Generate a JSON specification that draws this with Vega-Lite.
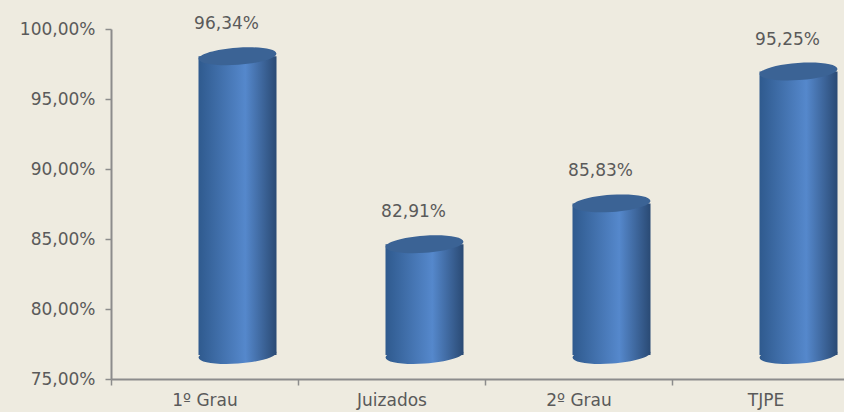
{
  "$schema": "https://vega.github.io/schema/vega-lite/v6.json",
  "autosize": "none",
  "width": 733,
  "height": 350,
  "padding": {"left": 111, "top": 29, "right": 0, "bottom": 33},
  "background": "#EEEBE0",
  "config": {
    "view": {"stroke": null},
    "locale": {"number": {"decimal": ",", "thousands": ".", "grouping": [3], "currency": ["R$", ""]}},
    "font": "DejaVu Sans"
  },
  "data": {
    "values": [
      {"categoria": "1º Grau", "valor": 0.9634},
      {"categoria": "Juizados", "valor": 0.8291},
      {"categoria": "2º Grau", "valor": 0.8583},
      {"categoria": "TJPE", "valor": 0.9525}
    ]
  },
  "encoding": {
    "x": {
      "field": "categoria",
      "type": "nominal",
      "sort": null,
      "scale": {"range": [0, 748], "paddingInner": 0, "paddingOuter": 0},
      "axis": {
        "title": null,
        "labelAngle": 0,
        "tickBand": "extent",
        "domainColor": "#8C8C8C",
        "domainWidth": 2,
        "tickColor": "#8C8C8C",
        "tickWidth": 1.5,
        "tickSize": 6,
        "labelFontSize": 17,
        "labelColor": "#5A5A5A",
        "labelPadding": 7
      }
    }
  },
  "layer": [
    {
      "mark": {
        "type": "point",
        "shape": "M -1 0 A 1 0.22 0 1 0 1 0 A 1 0.22 0 1 0 -1 0 Z",
        "size": 6084,
        "filled": true,
        "opacity": 1,
        "angle": -4,
        "xOffset": 33,
        "yOffset": -24,
        "color": {
          "gradient": "linear", "x1": 0, "x2": 1, "y1": 0, "y2": 0,
          "stops": [
            {"offset": 0, "color": "#2F5A8E"},
            {"offset": 0.6, "color": "#5588CC"},
            {"offset": 1, "color": "#2A4A74"}
          ]
        }
      },
      "encoding": {"y": {"datum": 0.75, "type": "quantitative"}}
    },
    {
      "mark": {
        "type": "bar",
        "width": 78,
        "xOffset": 33,
        "yOffset": -24,
        "y2Offset": -24,
        "color": {
          "gradient": "linear", "x1": 0, "x2": 1, "y1": 0, "y2": 0,
          "stops": [
            {"offset": 0, "color": "#2F5A8E"},
            {"offset": 0.6, "color": "#5588CC"},
            {"offset": 1, "color": "#2A4A74"}
          ]
        }
      },
      "encoding": {
        "y": {
          "field": "valor",
          "type": "quantitative",
          "scale": {"domain": [0.75, 1.0], "nice": false, "zero": false},
          "axis": {
            "title": null,
            "format": ".2%",
            "values": [0.75, 0.8, 0.85, 0.9, 0.95, 1.0],
            "grid": false,
            "domainColor": "#8C8C8C",
            "domainWidth": 2,
            "tickColor": "#8C8C8C",
            "tickWidth": 1.5,
            "tickSize": 6,
            "labelFontSize": 17,
            "labelColor": "#5A5A5A",
            "labelPadding": 10
          }
        },
        "y2": {"datum": 0.75}
      }
    },
    {
      "mark": {
        "type": "point",
        "shape": "M -1 0 A 1 0.22 0 1 0 1 0 A 1 0.22 0 1 0 -1 0 Z",
        "size": 6084,
        "filled": true,
        "opacity": 1,
        "angle": -4,
        "xOffset": 33,
        "yOffset": -24,
        "color": "#3B6395"
      },
      "encoding": {"y": {"field": "valor", "type": "quantitative"}}
    },
    {
      "mark": {
        "type": "text",
        "xOffset": 22,
        "dy": -56,
        "fontSize": 17,
        "color": "#5A5A5A",
        "baseline": "middle"
      },
      "encoding": {
        "y": {"field": "valor", "type": "quantitative"},
        "text": {"field": "valor", "type": "quantitative", "format": ".2%"}
      }
    }
  ]
}
